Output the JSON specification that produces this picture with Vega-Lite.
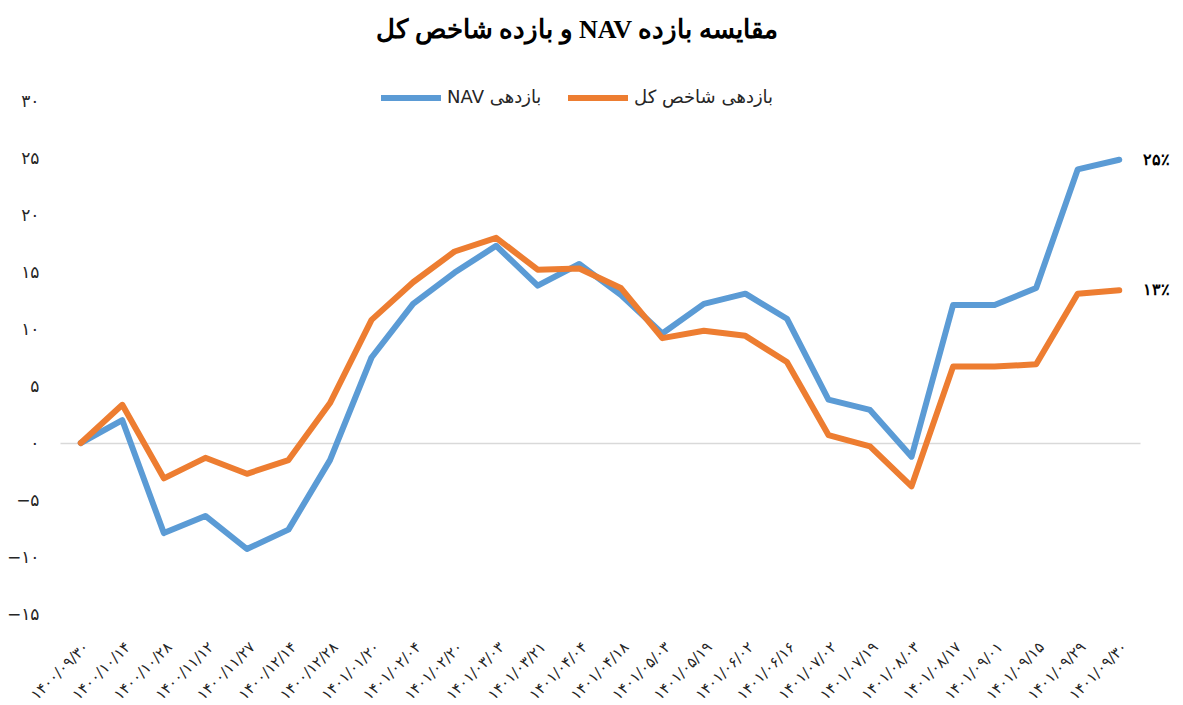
{
  "$schema": "https://vega.github.io/schema/vega-lite/v6.json",
  "autosize": {"type": "none"},
  "width": 1080,
  "height": 513,
  "padding": {"left": 60, "top": 101, "right": 43, "bottom": 91},
  "background": "white",
  "title": {
    "text": "\u202bمقایسه بازده NAV و بازده شاخص کل\u202c",
    "font": "Liberation Serif",
    "fontSize": 26,
    "fontWeight": "bold",
    "color": "#000000",
    "anchor": "middle",
    "offset": 22,
    "dx": -23
  },
  "config": {
    "view": {"stroke": null},
    "font": "DejaVu Sans"
  },
  "datasets": {
    "main": [
      {"date": "۱۴۰۰/۰۹/۳۰", "series": "NAV  بازدهی", "value": 0},
      {"date": "۱۴۰۰/۱۰/۱۴", "series": "NAV  بازدهی", "value": 2.0},
      {"date": "۱۴۰۰/۱۰/۲۸", "series": "NAV  بازدهی", "value": -7.9},
      {"date": "۱۴۰۰/۱۱/۱۲", "series": "NAV  بازدهی", "value": -6.4},
      {"date": "۱۴۰۰/۱۱/۲۷", "series": "NAV  بازدهی", "value": -9.3},
      {"date": "۱۴۰۰/۱۲/۱۴", "series": "NAV  بازدهی", "value": -7.6},
      {"date": "۱۴۰۰/۱۲/۲۸", "series": "NAV  بازدهی", "value": -1.5},
      {"date": "۱۴۰۱/۰۱/۲۰", "series": "NAV  بازدهی", "value": 7.5},
      {"date": "۱۴۰۱/۰۲/۰۴", "series": "NAV  بازدهی", "value": 12.2},
      {"date": "۱۴۰۱/۰۲/۲۰", "series": "NAV  بازدهی", "value": 14.95},
      {"date": "۱۴۰۱/۰۳/۰۳", "series": "NAV  بازدهی", "value": 17.3},
      {"date": "۱۴۰۱/۰۳/۲۱", "series": "NAV  بازدهی", "value": 13.8},
      {"date": "۱۴۰۱/۰۴/۰۴", "series": "NAV  بازدهی", "value": 15.7},
      {"date": "۱۴۰۱/۰۴/۱۸", "series": "NAV  بازدهی", "value": 13.0},
      {"date": "۱۴۰۱/۰۵/۰۳", "series": "NAV  بازدهی", "value": 9.6},
      {"date": "۱۴۰۱/۰۵/۱۹", "series": "NAV  بازدهی", "value": 12.2},
      {"date": "۱۴۰۱/۰۶/۰۲", "series": "NAV  بازدهی", "value": 13.1},
      {"date": "۱۴۰۱/۰۶/۱۶", "series": "NAV  بازدهی", "value": 10.9},
      {"date": "۱۴۰۱/۰۷/۰۲", "series": "NAV  بازدهی", "value": 3.8},
      {"date": "۱۴۰۱/۰۷/۱۹", "series": "NAV  بازدهی", "value": 2.9},
      {"date": "۱۴۰۱/۰۸/۰۳", "series": "NAV  بازدهی", "value": -1.2},
      {"date": "۱۴۰۱/۰۸/۱۷", "series": "NAV  بازدهی", "value": 12.1},
      {"date": "۱۴۰۱/۰۹/۰۱", "series": "NAV  بازدهی", "value": 12.1},
      {"date": "۱۴۰۱/۰۹/۱۵", "series": "NAV  بازدهی", "value": 13.6},
      {"date": "۱۴۰۱/۰۹/۲۹", "series": "NAV  بازدهی", "value": 24.0},
      {"date": "۱۴۰۱/۰۹/۳۰", "series": "NAV  بازدهی", "value": 24.85},
      {"date": "۱۴۰۰/۰۹/۳۰", "series": "بازدهی شاخص کل", "value": 0},
      {"date": "۱۴۰۰/۱۰/۱۴", "series": "بازدهی شاخص کل", "value": 3.35},
      {"date": "۱۴۰۰/۱۰/۲۸", "series": "بازدهی شاخص کل", "value": -3.1},
      {"date": "۱۴۰۰/۱۱/۱۲", "series": "بازدهی شاخص کل", "value": -1.3},
      {"date": "۱۴۰۰/۱۱/۲۷", "series": "بازدهی شاخص کل", "value": -2.7},
      {"date": "۱۴۰۰/۱۲/۱۴", "series": "بازدهی شاخص کل", "value": -1.5},
      {"date": "۱۴۰۰/۱۲/۲۸", "series": "بازدهی شاخص کل", "value": 3.5},
      {"date": "۱۴۰۱/۰۱/۲۰", "series": "بازدهی شاخص کل", "value": 10.8},
      {"date": "۱۴۰۱/۰۲/۰۴", "series": "بازدهی شاخص کل", "value": 14.1},
      {"date": "۱۴۰۱/۰۲/۲۰", "series": "بازدهی شاخص کل", "value": 16.8},
      {"date": "۱۴۰۱/۰۳/۰۳", "series": "بازدهی شاخص کل", "value": 18.0},
      {"date": "۱۴۰۱/۰۳/۲۱", "series": "بازدهی شاخص کل", "value": 15.2},
      {"date": "۱۴۰۱/۰۴/۰۴", "series": "بازدهی شاخص کل", "value": 15.3},
      {"date": "۱۴۰۱/۰۴/۱۸", "series": "بازدهی شاخص کل", "value": 13.6},
      {"date": "۱۴۰۱/۰۵/۰۳", "series": "بازدهی شاخص کل", "value": 9.2},
      {"date": "۱۴۰۱/۰۵/۱۹", "series": "بازدهی شاخص کل", "value": 9.85},
      {"date": "۱۴۰۱/۰۶/۰۲", "series": "بازدهی شاخص کل", "value": 9.4},
      {"date": "۱۴۰۱/۰۶/۱۶", "series": "بازدهی شاخص کل", "value": 7.1},
      {"date": "۱۴۰۱/۰۷/۰۲", "series": "بازدهی شاخص کل", "value": 0.7},
      {"date": "۱۴۰۱/۰۷/۱۹", "series": "بازدهی شاخص کل", "value": -0.3},
      {"date": "۱۴۰۱/۰۸/۰۳", "series": "بازدهی شاخص کل", "value": -3.8},
      {"date": "۱۴۰۱/۰۸/۱۷", "series": "بازدهی شاخص کل", "value": 6.7},
      {"date": "۱۴۰۱/۰۹/۰۱", "series": "بازدهی شاخص کل", "value": 6.7},
      {"date": "۱۴۰۱/۰۹/۱۵", "series": "بازدهی شاخص کل", "value": 6.9},
      {"date": "۱۴۰۱/۰۹/۲۹", "series": "بازدهی شاخص کل", "value": 13.1},
      {"date": "۱۴۰۱/۰۹/۳۰", "series": "بازدهی شاخص کل", "value": 13.4}
    ],
    "ends": [
      {"date": "۱۴۰۱/۰۹/۳۰", "value": 24.85, "label": "۲۵٪"},
      {"date": "۱۴۰۱/۰۹/۳۰", "value": 13.4, "label": "۱۳٪"}
    ]
  },
  "layer": [
    {
      "data": {"name": "main"},
      "mark": {"type": "line", "strokeWidth": 6, "strokeJoin": "round", "strokeCap": "round"},
      "encoding": {
        "x": {
          "field": "date",
          "type": "ordinal",
          "sort": null,
          "scale": {"type": "point", "padding": 0.5},
          "axis": {
            "title": null,
            "labelAngle": -45,
            "labelFontSize": 15,
            "labelColor": "#262626",
            "labelPadding": 25,
            "ticks": false,
            "domain": false,
            "grid": false
          }
        },
        "y": {
          "field": "value",
          "type": "quantitative",
          "scale": {"domain": [-15, 30], "nice": false, "zero": false},
          "axis": {
            "title": null,
            "values": [-15, -10, -5, 0, 5, 10, 15, 20, 25, 30],
            "labelExpr": "replace(replace(replace(replace(replace(replace(replace(replace(replace(replace(datum.label,regexp('0','g'),'۰'),regexp('1','g'),'۱'),regexp('2','g'),'۲'),regexp('3','g'),'۳'),regexp('4','g'),'۴'),regexp('5','g'),'۵'),regexp('6','g'),'۶'),regexp('7','g'),'۷'),regexp('8','g'),'۸'),regexp('9','g'),'۹')",
            "labelFontSize": 17,
            "labelColor": "#262626",
            "labelPadding": 21,
            "ticks": false,
            "domain": false,
            "grid": true,
            "gridColor": {"condition": {"test": "datum.value === 0", "value": "#d9d9d9"}, "value": "transparent"},
            "gridWidth": 1.5
          }
        },
        "color": {
          "field": "series",
          "type": "nominal",
          "sort": ["NAV  بازدهی", "بازدهی شاخص کل"],
          "scale": {"domain": ["NAV  بازدهی", "بازدهی شاخص کل"], "range": ["#5B9BD5", "#ED7D31"]},
          "legend": {
            "title": null,
            "orient": "none",
            "direction": "horizontal",
            "legendX": 318,
            "legendY": -36,
            "symbolType": "stroke",
            "symbolSize": 3600,
            "symbolStrokeWidth": 6,
            "labelFontSize": 18,
            "labelColor": "#262626",
            "labelOffset": 3,
            "columnPadding": 8,
            "padding": 0
          }
        }
      }
    },
    {
      "data": {"name": "ends"},
      "mark": {"type": "text", "align": "left", "baseline": "middle", "dx": 24, "fontSize": 16, "fontWeight": "bold", "font": "DejaVu Serif", "color": "#000000"},
      "encoding": {
        "x": {"field": "date", "type": "ordinal", "sort": null},
        "y": {"field": "value", "type": "quantitative"},
        "text": {"field": "label"}
      }
    }
  ]
}
